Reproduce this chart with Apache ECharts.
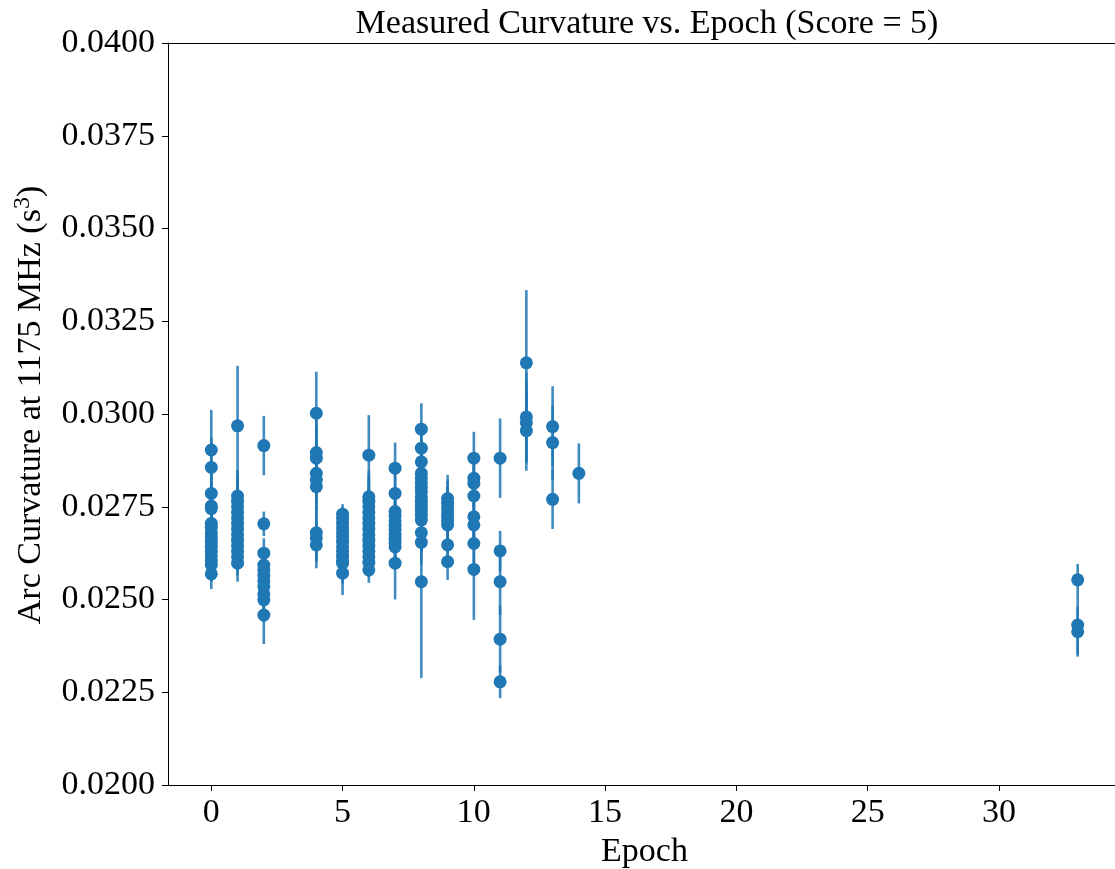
<!DOCTYPE html>
<html>
<head>
<meta charset="utf-8">
<script src="https://cdn.jsdelivr.net/npm/echarts@6/dist/echarts.min.js"></script>
<style>
html,body{margin:0;padding:0;background:#fff;}
#chart{width:1115px;height:869px;}
</style>
</head>
<body>
<div id="chart"></div>
<script>
// ---- Data ----
const epochs = [
  0,0,0,0,0,0,0,0,0,0,0,0,0,0,0,0,
  1,1,1,1,1,1,1,1,1,1,1,1,1,1,
  2,2,2,2,2,2,2,2,2,2,2,
  4,4,4,4,4,4,4,4,4,
  5,5,5,5,5,5,5,5,5,5,5,5,5,
  6,6,6,6,6,6,6,6,6,6,6,6,6,6,6,
  7,7,7,7,7,7,7,7,7,7,7,7,
  8,8,8,8,8,8,8,8,8,8,8,8,8,8,8,8,8,
  9,9,9,9,9,9,9,9,9,
  10,10,10,10,10,10,10,10,
  11,11,11,11,11,
  12,12,12,12,
  13,13,13,
  14,
  33,33,33
];
const curvature = [
  0.02903,0.02856,0.02786,0.02752,0.02745,0.02705,0.02695,0.02680,0.02668,0.02655,0.02643,0.02630,0.02618,0.02605,0.02593,0.02569,
  0.02968,0.02779,0.02765,0.02750,0.02735,0.02720,0.02705,0.02690,0.02675,0.02660,0.02645,0.02630,0.02615,0.02598,
  0.02915,0.02704,0.02625,0.02593,0.02580,0.02565,0.02550,0.02535,0.02515,0.02499,0.02458,
  0.03002,0.02896,0.02881,0.02840,0.02822,0.02804,0.02680,0.02666,0.02647,
  0.02730,0.02718,0.02705,0.02692,0.02680,0.02668,0.02655,0.02642,0.02630,0.02617,0.02605,0.02598,0.02571,
  0.02889,0.02777,0.02765,0.02750,0.02735,0.02720,0.02705,0.02690,0.02675,0.02660,0.02645,0.02630,0.02615,0.02600,0.02580,
  0.02854,0.02786,0.02737,0.02725,0.02712,0.02700,0.02688,0.02675,0.02663,0.02652,0.02642,0.02598,
  0.02959,0.02908,0.02871,0.02840,0.02828,0.02815,0.02802,0.02790,0.02777,0.02765,0.02752,0.02740,0.02727,0.02714,0.02680,0.02654,0.02548,
  0.02772,0.02760,0.02748,0.02736,0.02724,0.02712,0.02701,0.02647,0.02602,
  0.02881,0.02827,0.02813,0.02779,0.02723,0.02701,0.02651,0.02581,
  0.02881,0.02631,0.02548,0.02393,0.02278,
  0.03138,0.02992,0.02977,0.02955,
  0.02966,0.02923,0.02770,
  0.02840,
  0.02553,0.02431,0.02413
];
const curvErr = [
  0.00108,0.00080,0.00070,0.00060,0.00060,0.00060,0.00055,0.00055,0.00050,0.00050,0.00050,0.00050,0.00045,0.00045,0.00045,0.00041,
  0.00162,0.00070,0.00065,0.00065,0.00060,0.00060,0.00060,0.00055,0.00055,0.00055,0.00050,0.00050,0.00050,0.00050,
  0.00080,0.00033,0.00040,0.00040,0.00045,0.00045,0.00050,0.00050,0.00055,0.00060,0.00078,
  0.00112,0.00090,0.00085,0.00080,0.00080,0.00075,0.00070,0.00065,0.00063,
  0.00027,0.00030,0.00030,0.00035,0.00035,0.00040,0.00040,0.00045,0.00045,0.00050,0.00050,0.00055,0.00059,
  0.00108,0.00070,0.00065,0.00065,0.00060,0.00060,0.00055,0.00055,0.00050,0.00050,0.00045,0.00045,0.00040,0.00040,0.00035,
  0.00069,0.00060,0.00055,0.00055,0.00050,0.00050,0.00050,0.00050,0.00050,0.00055,0.00060,0.00098,
  0.00070,0.00065,0.00060,0.00060,0.00055,0.00055,0.00055,0.00050,0.00050,0.00050,0.00050,0.00050,0.00050,0.00050,0.00055,0.00060,0.00260,
  0.00064,0.00060,0.00055,0.00055,0.00050,0.00050,0.00050,0.00049,0.00049,
  0.00071,0.00065,0.00065,0.00060,0.00060,0.00060,0.00070,0.00136,
  0.00107,0.00054,0.00090,0.00090,0.00044,
  0.00196,0.00120,0.00110,0.00108,
  0.00109,0.00100,0.00080,
  0.00081,
  0.00043,0.00080,0.00067
];
const xTickValues = [0, 5, 10, 15, 20, 25, 30];
const yTickLabels = ['0.0200','0.0225','0.0250','0.0275','0.0300','0.0325','0.0350','0.0375','0.0400'];

// ---- Build series data from arrays ----
const pointData = epochs.map((e, i) => [e, curvature[i]]);
const errData = epochs.map((e, i) => [e, curvature[i] - curvErr[i], curvature[i] + curvErr[i]]);

const FONT = '"Liberation Serif", "Times New Roman", serif';
const FS = 34;
const BLUE = '#1f77b4';

const chart = echarts.init(document.getElementById('chart'), null, {renderer: 'canvas'});
chart.setOption({
  animation: false,
  backgroundColor: '#fff',
  title: {
    text: 'Measured Curvature vs. Epoch (Score = 5)',
    left: 642, top: 2, textAlign: 'center',
    textStyle: {fontFamily: FONT, fontSize: FS, fontWeight: 'normal', color: '#000'}
  },
  grid: {
    left: 168, top: 43, right: -6, bottom: 84,
    outerBoundsMode: 'none',
    containLabel: false,
    show: false
  },
  xAxis: [{
    type: 'value',
    min: -1.65, max: 34.65,
    name: 'Epoch', nameLocation: 'middle', nameGap: 45,
    nameTextStyle: {fontFamily: FONT, fontSize: FS, color: '#000'},
    axisLine: {show: true, onZero: false, lineStyle: {color: '#000', width: 1}},
    axisTick: {show: true, length: 6, lineStyle: {color: '#000'}, customValues: xTickValues},
    axisLabel: {fontFamily: FONT, fontSize: FS, color: '#000', margin: 11, customValues: xTickValues},
    splitLine: {show: false}
  }, {
    type: 'value',
    position: 'top',
    min: -1.65, max: 34.65,
    axisLine: {show: true, onZero: false, lineStyle: {color: '#000', width: 1}},
    axisTick: {show: false},
    axisLabel: {show: false},
    splitLine: {show: false}
  }],
  yAxis: {
    type: 'value',
    min: 0.02, max: 0.04, interval: 0.0025,
    name: '{m|Arc Curvature at 1175 MHz (s}{s|3}{m|)}',
    nameLocation: 'middle', nameGap: 113, nameRotate: 90,
    nameTextStyle: {
      fontFamily: FONT, fontSize: FS, color: '#000',
      padding: [0, 0, 0, 18],
      rich: {
        m: {fontFamily: FONT, fontSize: FS, color: '#000', lineHeight: 40},
        s: {fontFamily: FONT, fontSize: 24, color: '#000', verticalAlign: 'top', lineHeight: 40, padding: [0, 0, 16, 0]}
      }
    },
    axisLine: {show: true, onZero: false, lineStyle: {color: '#000', width: 1}},
    axisTick: {show: true, length: 6, lineStyle: {color: '#000'}},
    axisLabel: {
      fontFamily: FONT, fontSize: FS, color: '#000', margin: 13,
      formatter: function (v) {
        const idx = Math.round((v - 0.02) / 0.0025);
        return yTickLabels[idx] !== undefined ? yTickLabels[idx] : v.toFixed(4);
      }
    },
    splitLine: {show: false}
  },
  series: [
    {
      type: 'custom',
      data: errData,
      xAxisIndex: 0,
      encode: {x: 0, y: [1, 2]},
      renderItem: function (params, api) {
        const x = api.value(0);
        const p1 = api.coord([x, api.value(1)]);
        const p2 = api.coord([x, api.value(2)]);
        return {
          type: 'line',
          shape: {x1: p1[0], y1: p1[1], x2: p2[0], y2: p2[1]},
          style: {stroke: BLUE, lineWidth: 2.6, opacity: 0.85}
        };
      },
      z: 2
    },
    {
      type: 'scatter',
      data: pointData,
      xAxisIndex: 0,
      symbol: 'circle',
      symbolSize: 13,
      itemStyle: {color: BLUE, opacity: 1},
      z: 3
    }
  ]
});
</script>
</body>
</html>
